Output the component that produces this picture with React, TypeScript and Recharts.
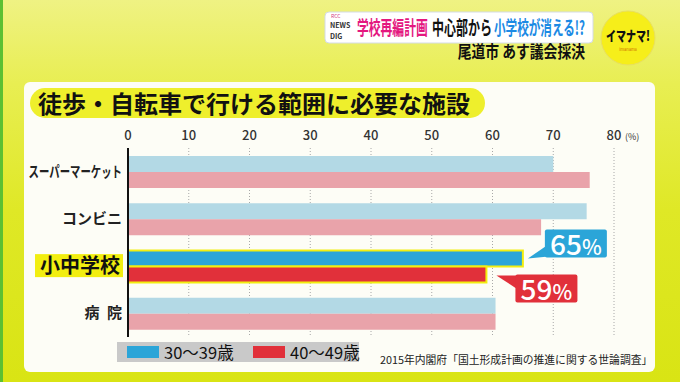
import React from 'react';
import { BarChart, Bar, XAxis, YAxis, CartesianGrid, Cell, LabelList } from 'recharts';

const categories = ['スーパーマーケット', 'コンビニ', '小中学校', '病 院'];
const age30s = [70, 75.5, 65, 60.5];
const age40s = [76, 68, 59, 60.5];
const xTicks = [0, 10, 20, 30, 40, 50, 60, 70, 80];
const seriesNames = ['30〜39歳', '40〜49歳'];

const data = categories.map((name, i) => ({ name, age30: age30s[i], age40: age40s[i] }));

const FONT = "'Noto Sans CJK JP', 'Noto Sans', sans-serif";
const HIGHLIGHT = 2;

const LIGHT_BLUE = '#b3d9e5';
const LIGHT_PINK = '#e9a3aa';
const BLUE = '#2ba5d8';
const RED = '#e1303a';
const YELLOW = '#f2ee10';

function XTick(props: any) {
  const { x, y, payload } = props;
  return (
    <g>
      <text x={x} y={y} textAnchor="middle" fontFamily={FONT} fontSize={13} fontWeight={500} fill="#333">
        {payload.value}
      </text>
      {payload.value === 80 && (
        <text x={x + 11} y={y} textAnchor="start" fontFamily={FONT} fontSize={9} fill="#333">
          (%)
        </text>
      )}
    </g>
  );
}

function YTick(props: any) {
  const { x, y, payload } = props;
  const v = payload.value;
  if (v === categories[HIGHLIGHT]) {
    return (
      <g>
        <rect x={x - 87} y={y - 12} width={88} height={23} fill={YELLOW} />
        <text x={x - 2} y={y + 7} textAnchor="end" fontFamily={FONT} fontSize={20} fontWeight={700} fill="#111">
          {v}
        </text>
      </g>
    );
  }
  const long = v.length > 6;
  return (
    <text
      x={x}
      y={y + 5}
      textAnchor="end"
      fontFamily={FONT}
      fontSize={long ? 10.4 : 15}
      fontWeight={700}
      fill="#222"
      transform={long ? `translate(${x},${y + 5}) scale(1,1.4) translate(${-x},${-(y + 5)})` : undefined}
      style={{ whiteSpace: 'pre' }}
    >
      {v.replace(' ', '\u2002')}
    </text>
  );
}

function Callout(color: string, upper: boolean) {
  return (props: any) => {
    const { x, y, width, value, index } = props;
    if (index !== HIGHLIGHT) return null;
    const end = x + width;
    let bx, by, tri;
    if (upper) {
      bx = end + 22;
      by = y - 21;
      tri = `${bx + 2},${by + 16} ${bx + 14},${by + 26} ${end + 5},${by + 29}`;
    } else {
      bx = end + 29;
      by = y + 8;
      tri = `${end + 10},${by + 1} ${bx + 4},${by + 1} ${bx + 4},${by + 16}`;
    }
    return (
      <g>
        <polygon points={tri} fill={color} />
        <rect x={bx} y={by} width={62} height={28} rx={2} fill={color} />
        <text x={bx + 31} y={by + 25} textAnchor="middle" fontFamily={FONT} fontWeight={500} fill="#fff">
          <tspan fontSize={28}>{value}</tspan>
          <tspan fontSize={21}>%</tspan>
        </text>
      </g>
    );
  };
}

function Stretched(p: { x: number; y: number; size: number; sy: number; fill: string; anchor?: string; weight?: number; children: string }) {
  return (
    <text
      transform={`translate(${p.x},${p.y}) scale(1,${p.sy})`}
      textAnchor={p.anchor || 'start'}
      fontFamily={FONT}
      fontSize={p.size}
      fontWeight={p.weight || 700}
      fill={p.fill}
    >
      {p.children}
    </text>
  );
}

function Header() {
  return (
    <svg width={680} height={382} style={{ position: 'absolute', left: 0, top: 0 }}>
      <rect x={325} y={12} width={268} height={31} rx={4} fill="#fff" stroke="#d4dbe6" />
      <text x={331} y={18} fontFamily={FONT} fontSize={5} fill="#d23c84">RCC</text>
      <text x={330} y={28} fontFamily={FONT} fontSize={7} fontWeight={700} fill="#333">NEWS</text>
      <text x={330} y={39} fontFamily={FONT} fontSize={7} fontWeight={700} fill="#333">DIG</text>
      <Stretched x={357} y={35} size={11.8} sy={1.65} fill="#e4177f">学校再編計画</Stretched>
      <Stretched x={432} y={35} size={12} sy={1.65} fill="#111">中心部から</Stretched>
      <Stretched x={494} y={35} size={11.6} sy={1.65} fill="#1c8ae4">小学校が消える!?</Stretched>
      <Stretched x={585} y={58} size={13.8} sy={1.2} fill="#111" anchor="end">尾道市 あす議会採決</Stretched>
      <circle cx={628} cy={38} r={27} fill="#f6ee1a" stroke="#e8e060" />
      <Stretched x={628} y={41} size={10} sy={1.4} fill="#111" anchor="middle" weight={900}>イマナマ!</Stretched>
      <text x={628} y={51} textAnchor="middle" fontFamily={FONT} fontSize={4} fill="#d07000">imanama</text>
    </svg>
  );
}

export default function App() {
  return (
    <div
      style={{
        position: 'absolute',
        left: 0,
        top: 0,
        width: 680,
        height: 382,
        overflow: 'hidden',
        fontFamily: FONT,
        background: 'linear-gradient(180deg, #eff283 0%, #e8ee52 22%, #dfe826 55%, #d9e414 100%)',
      }}
    >
      <div style={{ position: 'absolute', left: 0, top: 0, width: 3, height: 382, background: '#5cc032' }} />
      <Header />
      <div
        style={{
          position: 'absolute',
          left: 24,
          top: 82,
          width: 631,
          height: 290,
          background: '#fdfdf6',
          borderRadius: 6,
        }}
      />
      <div
        style={{
          position: 'absolute',
          left: 30,
          top: 88,
          width: 455,
          height: 30,
          background: '#eeef2c',
          borderRadius: 15,
          fontSize: 24,
          fontWeight: 700,
          lineHeight: '30px',
          color: '#111',
          paddingLeft: 8,
          boxSizing: 'border-box',
          whiteSpace: 'nowrap',
        }}
      >
        徒歩・自転車で行ける範囲に必要な施設
      </div>
      <div
        style={{
          position: 'absolute',
          left: 117,
          top: 342,
          width: 242,
          height: 20,
          background: '#c9c9c9',
          whiteSpace: 'nowrap',
        }}
      >
        <div style={{ position: 'absolute', left: 10, top: 4, width: 32, height: 12, background: BLUE }} />
        <div style={{ position: 'absolute', left: 47, top: 0, fontSize: 16.5, lineHeight: '20px', color: '#111' }}>{seriesNames[0]}</div>
        <div style={{ position: 'absolute', left: 136, top: 4, width: 32, height: 12, background: RED }} />
        <div style={{ position: 'absolute', left: 173, top: 0, fontSize: 16.5, lineHeight: '20px', color: '#111' }}>{seriesNames[1]}</div>
      </div>
      <div
        style={{
          position: 'absolute',
          left: 380,
          top: 351,
          fontSize: 10.8,
          lineHeight: '16px',
          color: '#222',
          whiteSpace: 'nowrap',
        }}
      >
        2015年内閣府「国土形成計画の推進に関する世論調査」
      </div>
      <div style={{ position: 'absolute', left: 0, top: 0 }}>
        <BarChart
          width={680}
          height={382}
          data={data}
          layout="vertical"
          margin={{ top: 118, right: 66, bottom: 45, left: 0 }}
          barSize={16}
          barGap={0}
        >
          <CartesianGrid horizontal={false} stroke="#a8a8a8" strokeDasharray="1 2" />
          <XAxis
            type="number"
            orientation="top"
            domain={[0, 80]}
            ticks={xTicks}
            height={30}
            axisLine={false}
            tickLine={false}
            tick={<XTick />}
            interval={0}
          />
          <YAxis
            type="category"
            dataKey="name"
            width={128}
            axisLine={{ stroke: '#111', strokeWidth: 2 }}
            tickLine={false}
            tickSize={0}
            tickMargin={6}
            tick={<YTick />}
            interval={0}
          />
          <Bar dataKey="age30" isAnimationActive={false}>
            {data.map((d, i) => (
              <Cell
                key={d.name}
                fill={i === HIGHLIGHT ? BLUE : LIGHT_BLUE}
                stroke={i === HIGHLIGHT ? YELLOW : 'none'}
                strokeWidth={i === HIGHLIGHT ? 2 : 0}
              />
            ))}
            <LabelList dataKey="age30" content={Callout(BLUE, true)} />
          </Bar>
          <Bar dataKey="age40" isAnimationActive={false}>
            {data.map((d, i) => (
              <Cell
                key={d.name}
                fill={i === HIGHLIGHT ? RED : LIGHT_PINK}
                stroke={i === HIGHLIGHT ? YELLOW : 'none'}
                strokeWidth={i === HIGHLIGHT ? 2 : 0}
              />
            ))}
            <LabelList dataKey="age40" content={Callout(RED, false)} />
          </Bar>
        </BarChart>
      </div>
    </div>
  );
}
